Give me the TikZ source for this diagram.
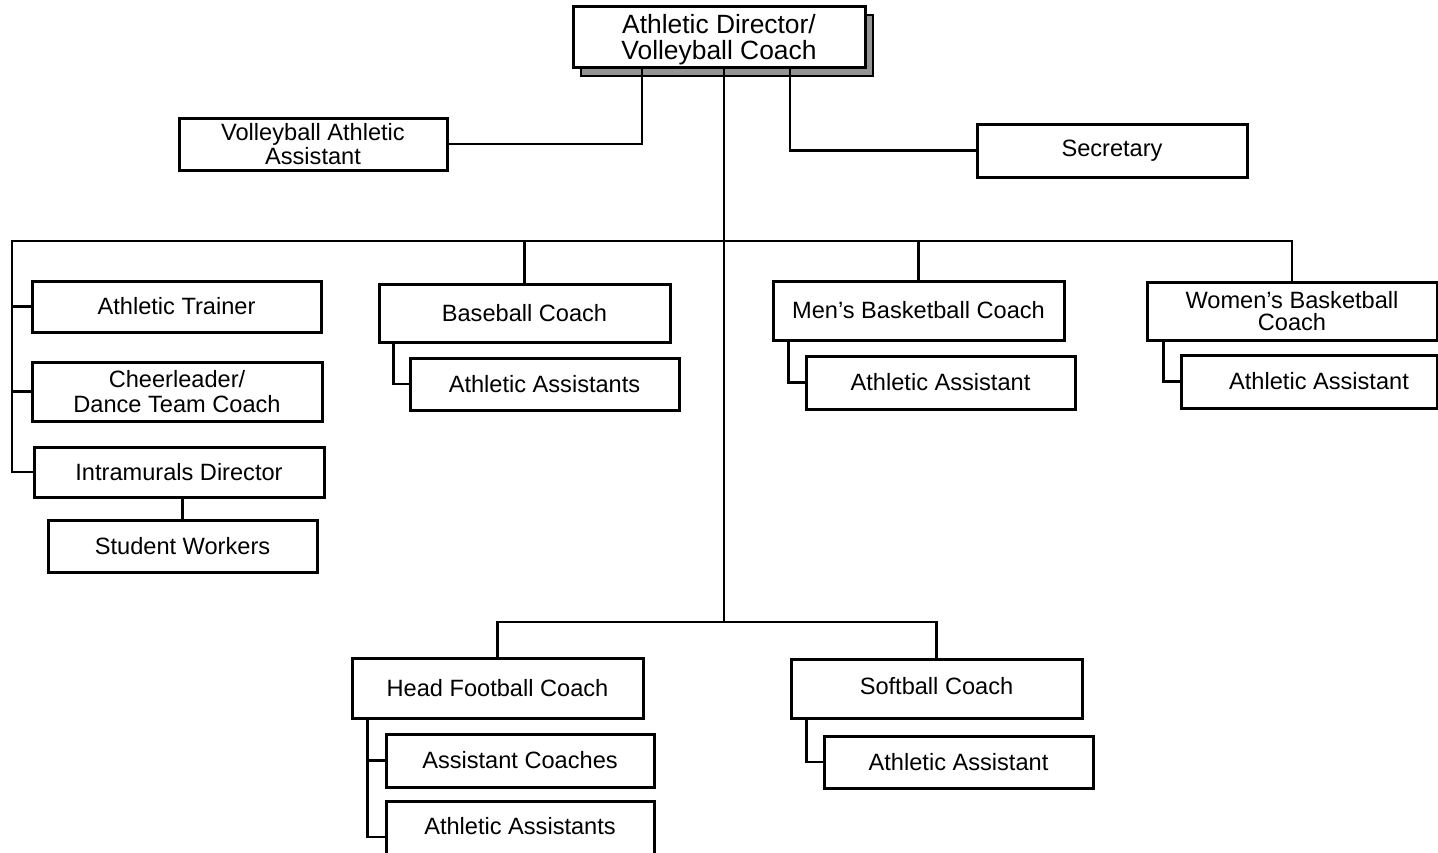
\documentclass[tikz,border=0pt]{standalone}
\usepackage{fontspec}
\setmainfont{Liberation Sans}
% box: name, centre x, centre y, width, height, text (all in px units)
\newcommand\orgbox[6]{\node[obox, minimum width=#4*0.5pt, minimum height=#5*0.5pt] (#1) at (#2,#3) {#6};}
% shift text vertically while keeping its footprint
\newcommand\nudge[2]{\raisebox{#1}[\height][\depth]{#2}}
\begin{document}
\begin{tikzpicture}[x=0.5pt,y=-0.5pt,
  obox/.style={draw=black, line width=1.5pt, fill=white, rectangle, inner sep=0pt,
    align=center, font=\fontsize{11.8pt}{12pt}\selectfont},
  link/.style={line width=1.35pt, line join=miter, line cap=rect},
  shade/.style={draw=black, line width=1.2pt, fill=black!42}]
\useasboundingbox (0,0) rectangle (1438,852);

% head of department, with its drop shadow
\node[shade, rectangle, minimum width=292*0.5pt, minimum height=61*0.5pt] (topshade) at (727,45.5) {};
\node[obox, minimum width=292*0.5pt, minimum height=61*0.5pt,
  font=\fontsize{13.2pt}{12.5pt}\selectfont] (top) at (719,36.5)
  {\nudge{-2pt}{\begin{tabular}{@{}c@{}}Athletic Director/\\Volleyball Coach\end{tabular}}};

% staff directly under the director
\orgbox{vaa}{313}{144}{268}{52}{Volleyball Athletic\\[-0.3pt]Assistant}
\orgbox{sec}{1112}{150.5}{270}{53}{Secretary}

% left column
\orgbox{trainer}{176.5}{306.5}{289}{51}{Athletic Trainer}
\orgbox{cheer}{177}{391.5}{290}{59}{Cheerleader/\\[0.5pt]Dance Team Coach}
\orgbox{intra}{179}{472}{290}{50}{Intramurals Director}
\orgbox{student}{182.5}{546}{269}{52}{Student Workers}

% coaches on the upper bus
\orgbox{baseball}{524.5}{313}{291}{58}{Baseball Coach}
\orgbox{bbaa}{544.5}{384}{269}{52}{Athletic Assistants}
\orgbox{mens}{918.5}{310.5}{291}{59}{Men’s Basketball Coach}
\orgbox{mensaa}{940.5}{382.5}{269}{53}{Athletic Assistant}
\orgbox{womens}{1292}{311}{290}{58}{Women’s Basketball\\[-1pt]Coach}
\orgbox{womaa}{1309}{381.5}{256}{53}{\hspace*{10pt}Athletic Assistant}

% coaches on the lower bus
\orgbox{football}{497.5}{688}{291}{60}{Head Football Coach}
\orgbox{asscoach}{520}{760.5}{268}{53}{Assistant Coaches}
\orgbox{athass}{520}{831}{268}{60}{\nudge{2.5pt}{Athletic Assistants}}
\orgbox{softball}{936.5}{688.5}{291}{59}{\nudge{1pt}{Softball Coach}}
\orgbox{softaa}{958.5}{762}{269}{52}{Athletic Assistant}

% bus points
\coordinate (busL) at (12,241);
\coordinate (busR) at (1292,241);
\coordinate (trunkTop) at (724,67);
\coordinate (lowBus) at (724,622);

% director's own branches
\draw[link] ([xshift=-38.5pt]top.south) |- (vaa.east);
\draw[link] ([xshift=35.5pt]top.south) |- (sec.west);
\draw[link] (trunkTop) -- (lowBus);

% upper bus and its drops
\draw[link] (busL) -- (busR) -- (womens.north);
\draw[link] (baseball.north |- busL) -- (baseball.north);
\draw[link] (mens.north |- busL) -- (mens.north);
\draw[link] (busL) |- (intra.west);
\draw[link] (busL |- trainer.west) -- (trainer.west);
\draw[link] (busL |- cheer.west) -- (cheer.west);
\draw[link] (student.north |- intra.south) -- (student.north);

% assistants under upper coaches
\draw[link] ([xshift=8pt]baseball.south west) |- (bbaa.west);
\draw[link] ([xshift=8.5pt]mens.south west) |- (mensaa.west);
\draw[link] ([xshift=9pt]womens.south west) |- (womaa.west);

% lower bus and its drops
\draw[link] (football.north) |- (lowBus) -| (softball.north);
\draw[link] ([xshift=8.5pt]football.south west) |- ([yshift=-3pt]athass.west);
\draw[link] ([xshift=8.5pt]football.south west |- asscoach.west) -- (asscoach.west);
\draw[link] ([xshift=8.5pt]softball.south west) |- (softaa.west);
\end{tikzpicture}
\end{document}
